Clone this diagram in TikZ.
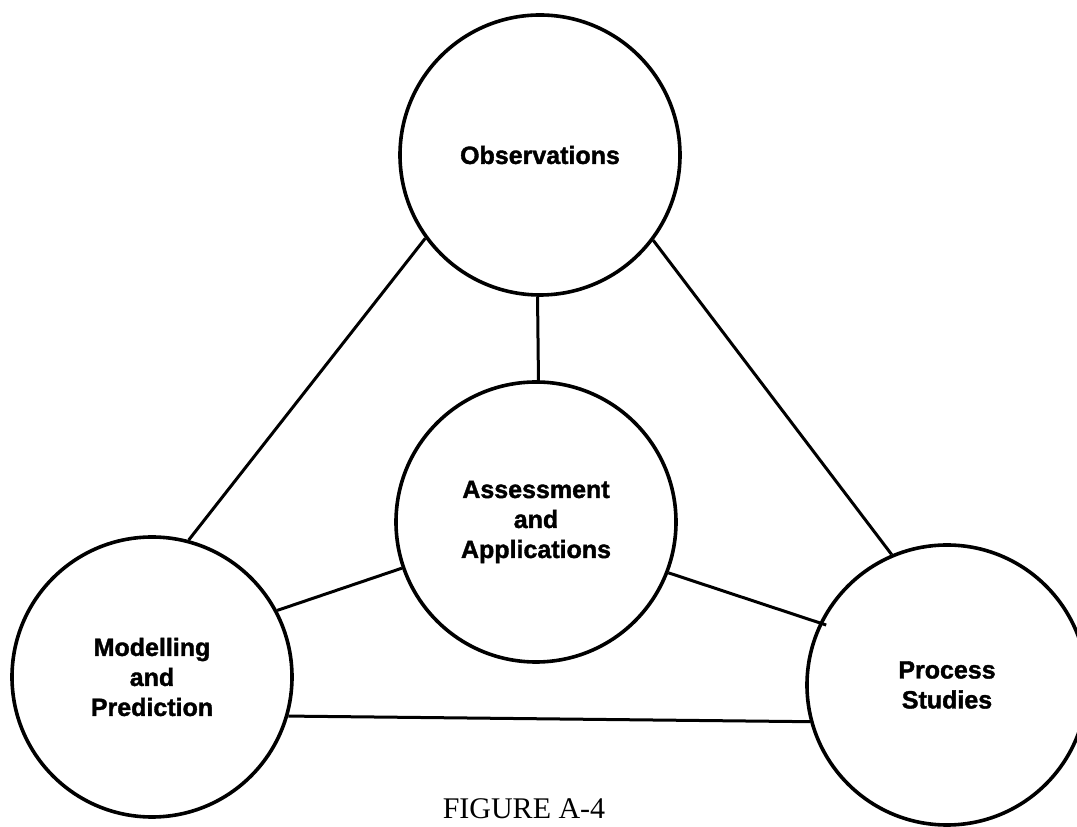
\documentclass[tikz,border=0pt]{standalone}
\usepackage{fontspec}
\setmainfont{Liberation Sans}[BoldFeatures={FakeBold=1.5}]
\newfontfamily\capfont{Liberation Serif}

\begin{document}
\begin{tikzpicture}[x=1pt,y=1pt,topic/.style={draw,circle,line width=3.6pt,minimum size=280pt,inner sep=0pt,align=center,font=\fontsize{25}{30}\selectfont\bfseries},link/.style={line width=3pt}]
  \useasboundingbox (0,0) rectangle (1077,827);

  \node[topic] (observations) at (540,672) {Observations};
  \node[topic] (assessment) at (536,305) {Assessment\\and\\Applications};
  \node[topic] (modelling) at (152,150) {Modelling\\and\\Prediction};
  \node[topic] (process) at (947,142) {Process\\Studies};

  \node[font=\capfont\fontsize{30}{30}\selectfont] (caption) at (524,18) {FIGURE A-4};

  \draw[link] (observations.216) -- (modelling.75);
  \draw[link] (observations.323) -- (process.113);
  \draw[link] (observations.269) -- (assessment.89);

  \draw[link] (assessment.199) -- (modelling.28);
  \draw[link,shorten >=-7pt] (assessment.339) -- (process.154);

  \draw[link] (modelling.344) -- (process.195);
\end{tikzpicture}
\end{document}
